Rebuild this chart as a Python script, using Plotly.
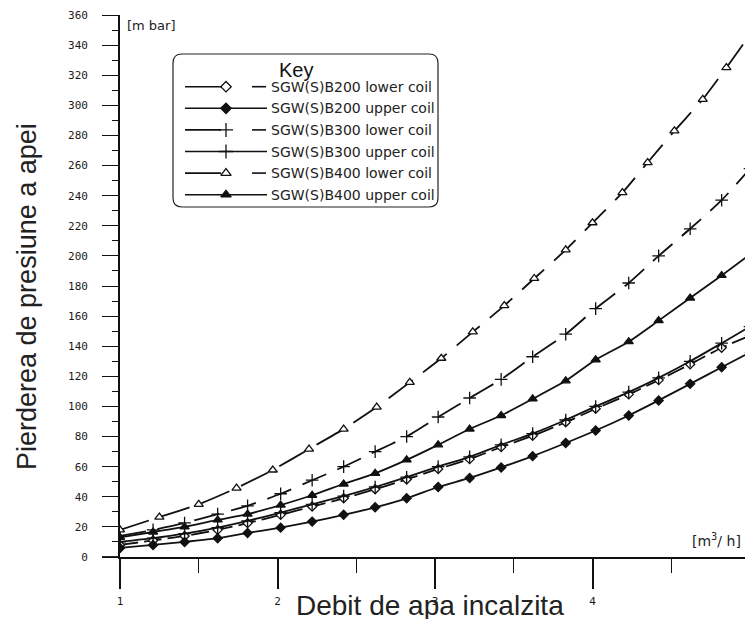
import plotly.graph_objects as go

# ---------------- data ----------------
# flow rate [m3/h]
x_flow = [1.00, 1.21, 1.41, 1.62, 1.81, 2.02, 2.22, 2.42, 2.62, 2.82, 3.02,
          3.22, 3.42, 3.62, 3.83, 4.02, 4.23, 4.42, 4.62, 4.82, 5.00]
x_flow_b400_lower = [1.00, 1.25, 1.50, 1.74, 1.97, 2.20, 2.42, 2.63, 2.84, 3.04, 3.24,
                     3.44, 3.63, 3.83, 4.00, 4.19, 4.35, 4.52, 4.70, 4.85, 5.00]

# pressure drop [mbar]
y_b200_lower = [8, 11, 14, 18, 22.5, 28, 33.5, 39, 45, 51.5, 58.5,
                65, 73, 80.5, 89.5, 98.5, 108, 117.5, 128, 139, 147]
y_b200_upper = [6, 8, 10, 12.5, 16, 19.5, 23.5, 28, 33, 39, 46.5,
                52.5, 59.5, 67, 75.7, 84, 94, 104, 115, 126, 136]
y_b300_lower = [14, 18, 22.6, 28.5, 34, 42, 51, 60, 70, 80, 93,
                105.6, 118, 133, 148, 165, 182, 200, 218, 237, 258]
y_b300_upper = [10, 12.5, 15.5, 19.5, 24, 29.5, 35, 40.5, 46.5, 53, 60,
                66.5, 74.5, 82, 91, 100, 109.5, 119, 130, 142, 153]
y_b400_lower = [18, 26.5, 35, 45.8, 57.8, 71.7, 85, 99.6, 116, 132, 149.5,
                167, 185, 204, 222, 242, 262, 283, 304, 325, 347]
y_b400_upper = [13, 16.6, 20, 24.6, 28.5, 34.5, 41, 48.5, 55.6, 64.5, 74.5,
                85, 94, 105, 117, 131, 143, 157, 172, 187, 201]

series_names = ["SGW(S)B200 lower coil", "SGW(S)B200 upper coil",
                "SGW(S)B300 lower coil", "SGW(S)B300 upper coil",
                "SGW(S)B400 lower coil", "SGW(S)B400 upper coil"]

x_tick_vals = [1, 2, 3, 4, 5]
y_tick_vals = list(range(0, 361, 20))

# ---------------- styles ----------------
INK = "#111111"
styles = [
    dict(dash="18px,6px", symbol="diamond", fill="white", size=7),
    dict(dash="solid", symbol="diamond", fill=INK, size=7),
    dict(dash="26px,12px", symbol="cross-thin", fill=INK, size=9),
    dict(dash="solid", symbol="cross-thin", fill=INK, size=9),
    dict(dash="30px,13px", symbol="triangle-up", fill="white", size=8),
    dict(dash="solid", symbol="triangle-up", fill=INK, size=8),
]
xs = [x_flow, x_flow, x_flow, x_flow, x_flow_b400_lower, x_flow]
ys = [y_b200_lower, y_b200_upper, y_b300_lower, y_b300_upper, y_b400_lower, y_b400_upper]

# plot-area geometry in pixels
W, H = 745, 619
PL, PR, PT, PB = 120, 745, 15, 557


def fx(px):
    return (px - PL) / (PR - PL)


def fy(py):
    return (PB - py) / (PB - PT)


fig = go.Figure()

for name, x, y, st in zip(series_names, xs, ys, styles):
    fig.add_trace(go.Scatter(
        x=x, y=y, name=name, mode="lines+markers",
        line=dict(color=INK, width=1.8, dash=st["dash"], shape="spline", smoothing=0.6),
        marker=dict(symbol=st["symbol"], size=st["size"], color=st["fill"],
                    line=dict(color=INK, width=1.3)),
        showlegend=False,
    ))

# ---------------- custom "Key" box ----------------
row_y = [86.7 + i * 21.6 for i in range(6)]
for i, (name, st) in enumerate(zip(series_names, styles)):
    yy = fy(row_y[i])
    lower = "lower" in name
    if lower:
        fig.add_trace(go.Scatter(x=[fx(185), fx(221)], y=[yy, yy], mode="lines",
                                 line=dict(color=INK, width=1.6), xaxis="x2", yaxis="y2",
                                 showlegend=False, hoverinfo="skip"))
        fig.add_trace(go.Scatter(x=[fx(252), fx(266)], y=[yy, yy], mode="lines",
                                 line=dict(color=INK, width=1.6), xaxis="x2", yaxis="y2",
                                 showlegend=False, hoverinfo="skip"))
    else:
        fig.add_trace(go.Scatter(x=[fx(185), fx(267)], y=[yy, yy], mode="lines",
                                 line=dict(color=INK, width=1.6), xaxis="x2", yaxis="y2",
                                 showlegend=False, hoverinfo="skip"))
    fig.add_trace(go.Scatter(x=[fx(226)], y=[yy], mode="markers",
                             marker=dict(symbol=st["symbol"], size=st["size"] + 1, color=st["fill"],
                                         line=dict(color=INK, width=1.3)),
                             xaxis="x2", yaxis="y2", showlegend=False, hoverinfo="skip"))
    fig.add_annotation(x=fx(269), y=yy, xref="paper", yref="paper", text=name,
                       showarrow=False, xanchor="left", yanchor="middle",
                       font=dict(family="DejaVu Sans", size=14, color="#222222"))

fig.add_annotation(x=fx(277), y=fy(70), xref="paper", yref="paper", text="Key",
                   showarrow=False, xanchor="left", yanchor="middle",
                   font=dict(family="Liberation Sans", size=20, color="#111111"))

# rounded box
x0, x1, y0, y1, r = fx(173), fx(438), fy(54), fy(207), 9
rx, ry = r / (PR - PL), r / (PB - PT)
path = (f"M {x0+rx},{y0} L {x1-rx},{y0} Q {x1},{y0} {x1},{y0-ry} "
        f"L {x1},{y1+ry} Q {x1},{y1} {x1-rx},{y1} L {x0+rx},{y1} "
        f"Q {x0},{y1} {x0},{y1+ry} L {x0},{y0-ry} Q {x0},{y0} {x0+rx},{y0} Z")
fig.add_shape(type="path", path=path, xref="paper", yref="paper",
              line=dict(color="#222222", width=1.2))

# axis line extension to the left of the y-axis
fig.add_shape(type="line", xref="paper", yref="paper", x0=fx(102), x1=0, y0=0, y1=0,
              line=dict(color=INK, width=1.8))

# units
fig.add_annotation(x=fx(125), y=fy(26), xref="paper", yref="paper", text="[m bar]",
                   showarrow=False, xanchor="left", yanchor="middle",
                   font=dict(family="DejaVu Sans", size=13, color="#222222"))
fig.add_annotation(x=fx(743), y=fy(540), xref="paper", yref="paper", text="[m<sup>3</sup>/ h]",
                   showarrow=False, xanchor="right", yanchor="middle",
                   font=dict(family="DejaVu Sans", size=14, color="#222222"))

# axis titles
fig.add_annotation(x=fx(27), y=fy(297), xref="paper", yref="paper",
                   text="Pierderea de presiune a apei", textangle=-90, showarrow=False,
                   xanchor="center", yanchor="middle",
                   font=dict(family="Liberation Sans", size=27, color="#222222"))
fig.add_annotation(x=fx(430), y=fy(605), xref="paper", yref="paper",
                   text="Debit de apa incalzita", showarrow=False,
                   xanchor="center", yanchor="middle",
                   font=dict(family="Liberation Sans", size=28, color="#222222"))

tick_font = dict(family="DejaVu Sans Mono", size=11, color="#1a1a1a")
fig.update_layout(
    width=W, height=H,
    margin=dict(l=PL, r=W - PR, t=PT, b=H - PB, pad=0),
    paper_bgcolor="white", plot_bgcolor="white",
    xaxis=dict(range=[1, 1 + (PR - PL) / 157.5], tickvals=x_tick_vals,
               ticktext=[str(v) for v in x_tick_vals],
               showgrid=False, zeroline=False, showline=True, linecolor=INK, linewidth=1.8,
               ticks="outside", ticklen=30, tickwidth=1.5, tickcolor=INK,
               ticklabelstandoff=3, tickfont=tick_font,
               minor=dict(ticks="outside", ticklen=14, tickwidth=1.2, tickcolor=INK,
                          tick0=1, dtick=0.5, showgrid=False)),
    yaxis=dict(range=[0, 360], tickvals=y_tick_vals,
               showgrid=False, zeroline=False, showline=True, linecolor=INK, linewidth=1.8,
               ticks="outside", ticklen=16, tickwidth=1.3, tickcolor=INK,
               ticklabelstandoff=12, tickfont=tick_font,
               minor=dict(ticks="outside", ticklen=6, tickwidth=1.2, tickcolor=INK,
                          tick0=0, dtick=10, showgrid=False)),
    xaxis2=dict(overlaying="x", range=[0, 1], visible=False),
    yaxis2=dict(overlaying="y", range=[0, 1], visible=False),
)

fig.write_html(
    "out.html",
    config={"displayModeBar": False},
    post_script="document.body.style.margin='0';document.body.style.overflow='hidden';",
)
